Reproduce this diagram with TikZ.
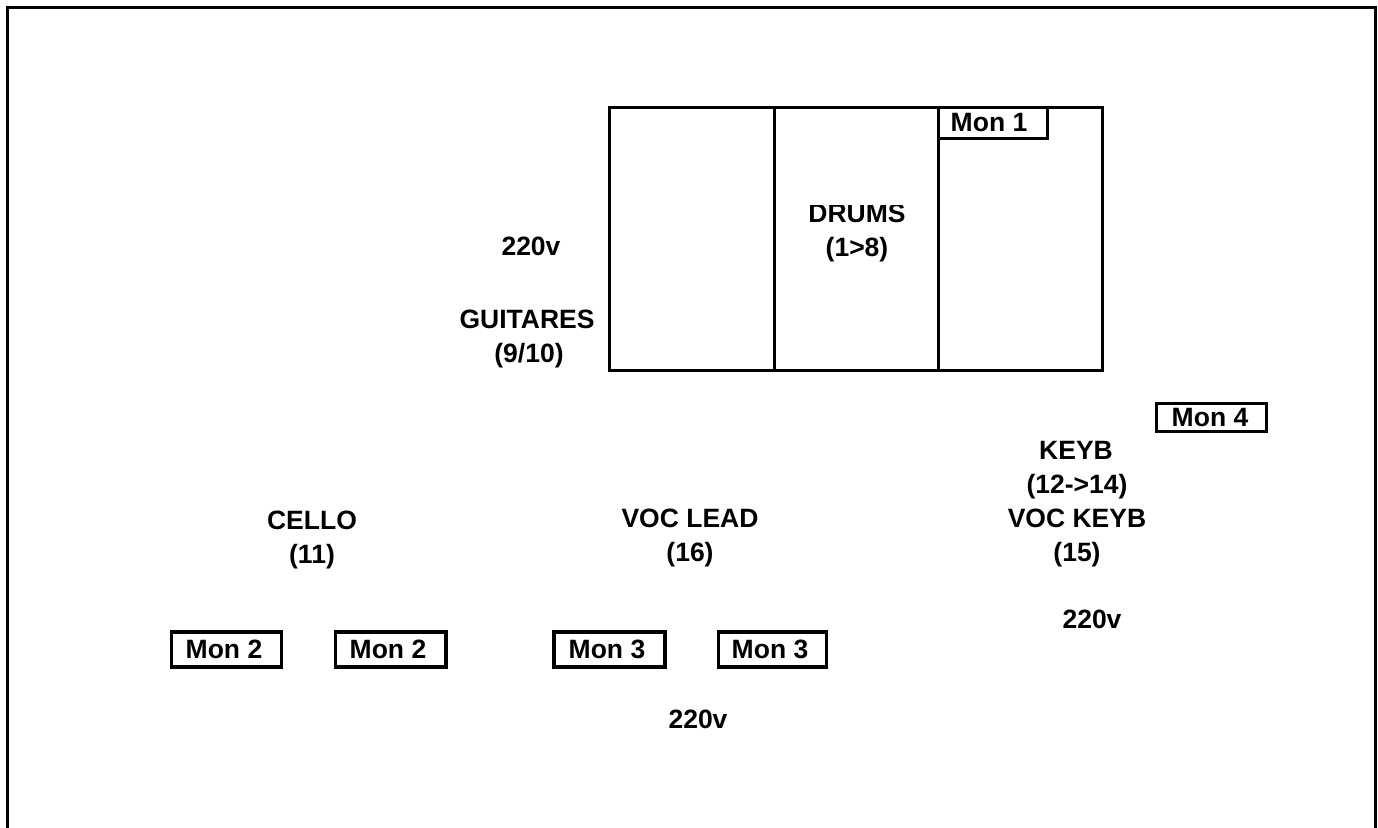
\documentclass[tikz,border=0pt]{standalone}
\usepackage{fontspec}
\setmainfont{Liberation Sans}
\begin{document}
\begin{tikzpicture}[x=1pt,y=-1pt,
  lbl/.style={font=\fontsize{26.5}{31}\selectfont\bfseries, inner sep=0pt, anchor=base},
  monbox/.style={draw, line width=3.3pt},
  stage/.style={draw, line width=3pt},
  frame/.style={draw, line width=3.3pt}]
\useasboundingbox (0,0) rectangle (1378,827);
% outer frame (bottom open)
\draw[frame] (7.5,840) -- (7.5,7.5) -- (1375.5,7.5) -- (1375.5,840);
% drum riser
\draw[stage] (609.5,107) rectangle (1102.5,370.5);
\coordinate (d1t) at (774,107); \coordinate (d1b) at (774,370.5);
\coordinate (d2t) at (938.5,107); \coordinate (d2b) at (938.5,370.5);
\draw[stage] (d1t) -- (d1b);
\draw[stage] (d2t) -- (d2b);
% Mon 1
\draw[stage] (938.5,107) rectangle (1047,138.7);
\node[lbl] (mon1) at (989,131) {Mon 1};
% Drums label (top slightly cut)
\begin{scope}
\clip (776,205.5) rectangle (937,300);
\node[lbl] (drums) at (857,222) {DRUMS};
\node[lbl] (drumsn) at (857,256) {(1>8)};
\end{scope}
% guitars
\node[lbl] (p1) at (531,255) {220v};
\node[lbl] (guit) at (527,328) {GUITARES};
\node[lbl] (guitn) at (529,362) {(9/10)};
% keyboards
\draw[monbox] (1156.7,403.3) rectangle (1266.7,431.7);
\node[lbl] (mon4) at (1210,426) {Mon 4};
\node[lbl] (keyb) at (1076,459) {KEYB};
\node[lbl] (keybn) at (1077,493) {(12->14)};
\node[lbl] (vkeyb) at (1077,527) {VOC KEYB};
\node[lbl] (vkeybn) at (1077,561) {(15)};
\node[lbl] (p2) at (1092,628) {220v};
% cello
\node[lbl] (cello) at (312,529) {CELLO};
\node[lbl] (cellon) at (312,563) {(11)};
% voc lead
\node[lbl] (vlead) at (690,527) {VOC LEAD};
\node[lbl] (vleadn) at (690,561) {(16)};
\node[lbl] (p3) at (698,728) {220v};
% wedges
\draw[monbox] (171.7,632) rectangle (281.7,667);
\node[lbl] (mon2a) at (224,658) {Mon 2};
\draw[monbox] (335.7,632) rectangle (446,667);
\node[lbl] (mon2b) at (388,658) {Mon 2};
\draw[monbox] (554,632) rectangle (665,667);
\node[lbl] (mon3a) at (607,658) {Mon 3};
\draw[monbox] (718.3,632) rectangle (826.7,667);
\node[lbl] (mon3b) at (770,658) {Mon 3};
\end{tikzpicture}
\end{document}
